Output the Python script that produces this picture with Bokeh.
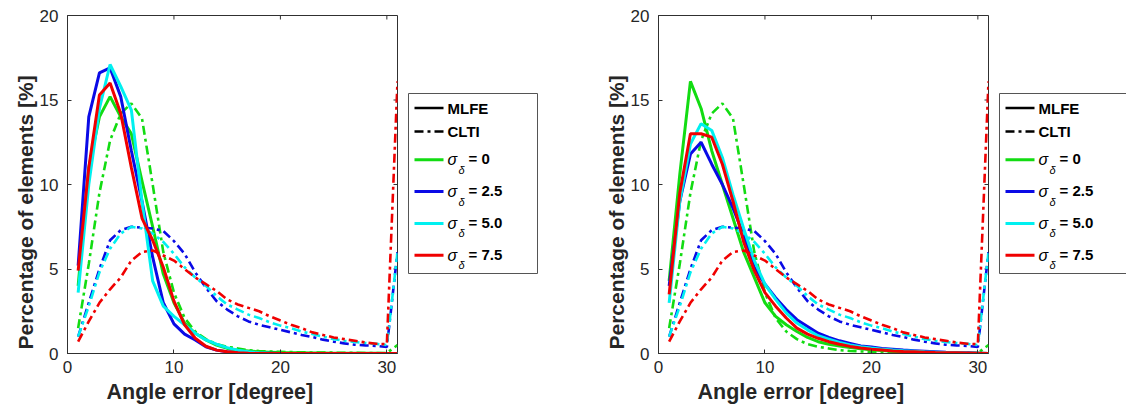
from bokeh.plotting import figure
from bokeh.models import Range1d, FixedTicker, Title
from bokeh.layouts import row
from bokeh.embed import file_html
from bokeh.resources import INLINE
from bokeh.core.properties import value

# ---------------- data ----------------
angle = list(range(1, 32))
sigma_labels = ["0", "2.5", "5.0", "7.5"]
series_colors = ["#12dc12", "#0a0ae6", "#00f0f0", "#f00000"]
x_ticks = [0, 10, 20, 30]
y_ticks = [0, 5, 10, 15, 20]
x_label = "Angle error [degree]"
y_label = "Percentage of elements [%]"

# left panel, MLFE (solid)
mlfe_left_s0 = [4.0, 11.0, 14.0, 15.2, 14.0, 13.0, 10.2, 7.5, 4.7, 3.0, 1.8, 1.2, 0.8, 0.5, 0.3, 0.2, 0.15, 0.1, 0.08, 0.06,
                0.05, 0.04, 0.03, 0.03, 0.02, 0.02, 0.01, 0.01, 0.01, 0.0, 0.0]
mlfe_left_s25 = [5.2, 14.0, 16.6, 16.9, 15.2, 12.0, 9.0, 5.7, 3.0, 1.75, 1.15, 0.8, 0.4, 0.2, 0.1, 0.05, 0.03, 0.02, 0.01, 0.0,
                 0.0, 0.0, 0.0, 0.0, 0.0, 0.0, 0.0, 0.0, 0.0, 0.0, 0.0]
mlfe_left_s50 = [3.6, 10.0, 14.5, 17.1, 15.8, 14.4, 9.0, 4.3, 2.8, 2.2, 1.7, 1.2, 0.8, 0.55, 0.35, 0.2, 0.1, 0.05, 0.02, 0.0,
                 0.0, 0.0, 0.0, 0.0, 0.0, 0.0, 0.0, 0.0, 0.0, 0.0, 0.0]
mlfe_left_s75 = [4.9, 11.0, 15.3, 16.0, 14.2, 11.0, 8.0, 6.7, 5.1, 3.1, 1.7, 0.9, 0.43, 0.2, 0.1, 0.05, 0.02, 0.0, 0.0, 0.0,
                 0.0, 0.0, 0.0, 0.0, 0.0, 0.0, 0.0, 0.0, 0.0, 0.0, 0.0]

# right panel, MLFE (solid)
mlfe_right_s0 = [4.3, 10.6, 16.1, 14.5, 12.0, 10.0, 8.0, 6.0, 4.5, 3.0, 2.2, 1.7, 1.3, 0.95, 0.7, 0.55, 0.45, 0.35, 0.28, 0.22,
                 0.17, 0.13, 0.1, 0.08, 0.06, 0.05, 0.04, 0.03, 0.02, 0.01, 0.0]
mlfe_right_s25 = [4.0, 9.0, 11.8, 12.5, 11.2, 10.0, 8.6, 7.0, 5.1, 4.1, 3.3, 2.6, 2.0, 1.6, 1.2, 0.95, 0.75, 0.6, 0.45, 0.38,
                  0.3, 0.25, 0.2, 0.17, 0.14, 0.11, 0.08, 0.06, 0.04, 0.02, 0.0]
mlfe_right_s50 = [3.0, 9.0, 12.4, 13.6, 13.2, 11.6, 9.4, 7.4, 5.5, 4.1, 3.2, 2.4, 1.8, 1.4, 1.05, 0.85, 0.65, 0.5, 0.4, 0.32,
                  0.25, 0.2, 0.16, 0.13, 0.1, 0.08, 0.06, 0.05, 0.03, 0.02, 0.0]
mlfe_right_s75 = [3.5, 9.5, 13.0, 13.0, 12.8, 11.2, 9.0, 6.6, 4.9, 3.6, 2.8, 2.1, 1.5, 1.15, 0.9, 0.7, 0.55, 0.42, 0.33, 0.25,
                  0.2, 0.15, 0.12, 0.1, 0.08, 0.06, 0.05, 0.04, 0.03, 0.02, 0.0]

# CLTI (dash-dot), same in both panels
clti_s0 = [1.5, 5.3, 9.5, 12.6, 14.2, 14.8, 13.9, 10.0, 6.0, 3.6, 2.1, 1.3, 0.85, 0.55, 0.4, 0.3, 0.2, 0.15, 0.12, 0.1,
           0.08, 0.07, 0.06, 0.05, 0.05, 0.04, 0.04, 0.03, 0.03, 0.03, 0.5]
clti_s25 = [1.0, 3.0, 5.0, 6.7, 7.3, 7.5, 7.45, 7.4, 7.25, 6.65, 5.9, 4.8, 3.9, 3.1, 2.6, 2.2, 1.9, 1.7, 1.55, 1.4,
            1.25, 1.1, 0.97, 0.82, 0.7, 0.6, 0.52, 0.48, 0.45, 0.38, 6.0]
clti_s50 = [1.0, 2.8, 4.8, 6.2, 7.1, 7.5, 7.4, 7.1, 6.6, 5.9, 5.1, 4.5, 4.0, 3.4, 2.9, 2.6, 2.3, 2.1, 1.85, 1.65,
            1.5, 1.3, 1.15, 1.0, 0.85, 0.75, 0.68, 0.62, 0.57, 0.5, 6.0]
clti_s75 = [0.7, 1.9, 3.0, 3.8, 4.5, 5.5, 6.0, 6.1, 5.8, 5.5, 5.0, 4.5, 4.1, 3.7, 3.2, 2.9, 2.7, 2.5, 2.2, 1.95,
            1.7, 1.5, 1.25, 1.1, 0.95, 0.85, 0.75, 0.65, 0.58, 0.55, 16.1]

mlfe_left = [mlfe_left_s0, mlfe_left_s25, mlfe_left_s50, mlfe_left_s75]
mlfe_right = [mlfe_right_s0, mlfe_right_s25, mlfe_right_s50, mlfe_right_s75]
clti = [clti_s0, clti_s25, clti_s50, clti_s75]

# ---------------- styling / layout ----------------
FONT = "Liberation Sans"
AX_COLOR = "#303030"
TXT_COLOR = "#262626"
DASH = "9 4 3 4"
H = 412
TOP = 15
BOTTOM = 59
FRAME_W = 330
FRAME_H = H - TOP - BOTTOM
XMAX = 31
YMAX = 20


def style_axis(ax):
    ax.axis_line_color = AX_COLOR
    ax.axis_line_width = 1
    ax.major_tick_line_color = AX_COLOR
    ax.major_tick_in = 4
    ax.major_tick_out = 0
    ax.minor_tick_line_color = None
    ax.major_label_text_font = FONT
    ax.major_label_text_font_size = "17px"
    ax.major_label_text_color = TXT_COLOR


def make_panel(mlfe, left_border):
    p = figure(width=400, height=H, x_range=Range1d(0, XMAX), y_range=Range1d(0, YMAX),
               output_backend="svg", toolbar_location=None,
               min_border_left=left_border, min_border_right=400 - FRAME_W - left_border,
               min_border_top=TOP, min_border_bottom=BOTTOM)
    p.xgrid.visible = False
    p.ygrid.visible = False
    p.outline_line_color = AX_COLOR
    p.xaxis.ticker = FixedTicker(ticks=x_ticks)
    p.yaxis.ticker = FixedTicker(ticks=y_ticks)
    style_axis(p.xaxis[0])
    style_axis(p.yaxis[0])
    p.xaxis.major_label_standoff = 7
    p.yaxis.major_label_standoff = 9

    ux = XMAX / FRAME_W   # data units per pixel
    uy = YMAX / FRAME_H
    # mirrored inward ticks on top and right edges
    p.segment(x0=x_ticks, y0=[YMAX] * len(x_ticks), x1=x_ticks, y1=[YMAX - 4 * uy] * len(x_ticks),
              line_color=AX_COLOR, line_width=1)
    p.segment(x0=[XMAX] * len(y_ticks), y0=y_ticks, x1=[XMAX - 4 * ux] * len(y_ticks), y1=y_ticks,
              line_color=AX_COLOR, line_width=1)

    for k in range(4):
        p.line(angle, mlfe[k], line_color=series_colors[k], line_width=3)
        p.line(angle, clti[k], line_color=series_colors[k], line_width=2.6, line_dash=DASH)

    # axis titles as side-panel titles (placed like the original, slightly off centre)
    xt = Title(text=x_label, text_font=FONT, text_font_size="21.5px", text_font_style="bold",
               text_color=TXT_COLOR, align="left", offset=39, standoff=5, vertical_align="bottom")
    yt = Title(text=y_label, text_font=FONT, text_font_size="21px", text_font_style="bold",
               text_color=TXT_COLOR, align="left", offset=4, standoff=0)
    p.add_layout(xt, "below")
    p.add_layout(yt, "left")
    return p


def make_legend(width, box_left):
    q = figure(width=width, height=H, x_range=Range1d(0, width), y_range=Range1d(H - BOTTOM, TOP),
               output_backend="svg", toolbar_location=None,
               min_border_left=0, min_border_right=0, min_border_top=TOP, min_border_bottom=BOTTOM,
               x_axis_type=None, y_axis_type=None)
    q.xgrid.visible = False
    q.ygrid.visible = False
    q.outline_line_color = None
    box_w = 129
    q.quad(left=[box_left], right=[box_left + box_w], top=[93], bottom=[273],
           fill_color="white", line_color="#555555", line_width=1)
    x0 = box_left + 6
    x1 = box_left + 35
    xt = box_left + 39
    method_names = ["MLFE", "CLTI"]
    method_dash = ["solid", DASH]
    for i, name in enumerate(method_names):
        y = 107.5 + 23.5 * i
        q.line([x0, x1], [y, y], line_color="black", line_width=2.6, line_dash=method_dash[i])
        q.text(x=[xt], y=[y], text=[name], text_font=value(FONT), text_font_style="bold",
               text_font_size="15px", text_baseline="middle", text_color="black")
    for k, lab in enumerate(sigma_labels):
        y = 159.3 + 31.8 * k
        q.line([x0, x1], [y, y], line_color=series_colors[k], line_width=3)
        q.text(x=[xt], y=[y], text=["\u03c3"], text_font=value(FONT), text_font_style="italic",
               text_font_size="16px", text_baseline="middle", text_color="black")
        q.text(x=[xt + 11], y=[y + 10], text=["\u03b4"], text_font=value(FONT), text_font_style="italic",
               text_font_size="11px", text_baseline="middle", text_color="black")
        q.text(x=[xt + 21], y=[y - 1], text=["= " + lab], text_font=value(FONT), text_font_style="bold",
               text_font_size="15px", text_baseline="middle", text_color="black")
    return q


p1 = make_panel(mlfe_left, 67)
l1 = make_legend(190, 8)
p2 = make_panel(mlfe_right, 68)
l2 = make_legend(136, 9)

layout = row(p1, l1, p2, l2, spacing=0)
open("out.html", "w").write(file_html(layout, INLINE))
